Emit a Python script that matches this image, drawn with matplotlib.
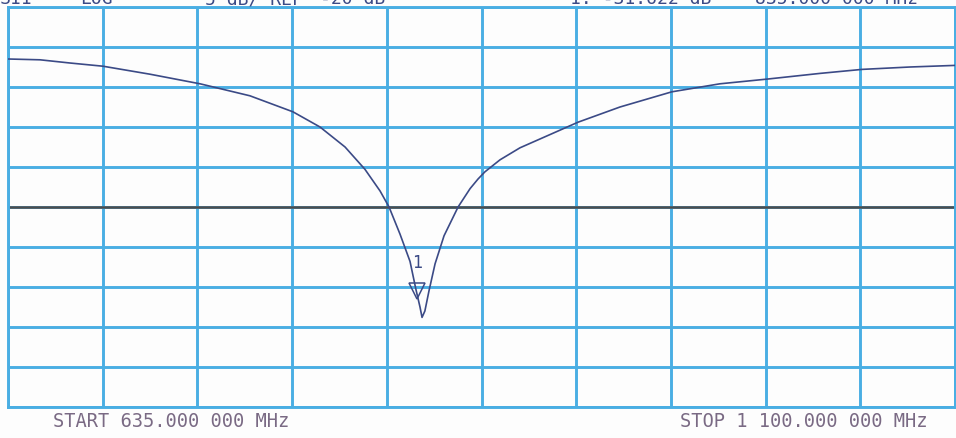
import matplotlib
matplotlib.use('Agg')
import matplotlib.pyplot as plt
import matplotlib.transforms as mtrans
import numpy as np

# Trace (S11, log mag)
freq_mhz = [635.0, 650.7, 665.4, 681.6, 704.7, 729.3, 753.8, 774.9, 788.2,
            800.5, 810.3, 817.7, 822.1, 827.5, 832.4, 835.3, 837.3, 838.3,
            839.7, 841.7, 844.7, 849.1, 856.0, 861.9, 865.8, 869.2, 876.6, 886.4,
            914.9, 935.5, 961.0, 984.6, 1008.2, 1033.7, 1054.3, 1077.9, 1100.0]
s11_db = [-1.5, -1.6, -2.0, -2.4, -3.4, -4.6, -6.1, -8.1, -10.0,
          -12.5, -15.3, -18.0, -20.0, -23.4, -26.8, -30.3, -32.5, -33.8,
          -33.0, -30.5, -27.1, -23.6, -20.0, -17.7, -16.5, -15.6, -14.1, -12.6,
          -9.4, -7.5, -5.6, -4.6, -4.0, -3.3, -2.8, -2.5, -2.3]

start_mhz = 635.0
stop_mhz = 1100.0
ref_db = -20.0
db_per_div = 5.0
marker_mhz = 836.0
marker_db = -31.622

header_left = ["S11", "LOG", "5 dB/ REF", "-20 dB"]
header_right = ["1: -31.622 dB", "835.000 000 MHz"]
start_label = "START 635.000 000 MHz"
stop_label = "STOP 1 100.000 000 MHz"

grid_blue = '#4aaee3'
trace_col = '#3b4a86'
label_col = '#7a6a84'
font = 'DejaVu Sans Mono'

fig = plt.figure(figsize=(9.56, 4.39), dpi=100)
fig.patch.set_facecolor('#fdfdfd')
ax = fig.add_axes([8 / 956, 31 / 439, 947 / 956, 400 / 439])
ax.set_facecolor('#fdfdfd')

ax.set_xlim(start_mhz, stop_mhz)
ax.set_ylim(ref_db - 5 * db_per_div, ref_db + 5 * db_per_div)
ax.set_xticks(np.linspace(start_mhz, stop_mhz, 11))
ax.set_yticks(np.arange(ref_db - 5 * db_per_div, ref_db + 5 * db_per_div + 1, db_per_div))
ax.grid(True, color=grid_blue, linewidth=2.1, zorder=1)
ax.tick_params(length=0, labelbottom=False, labelleft=False)
for sp in ax.spines.values():
    sp.set_color(grid_blue)
    sp.set_linewidth(2.1)

# reference line
ax.axhline(ref_db, color='#4d4d4d', linewidth=1.8, zorder=2)

# trace
ax.plot(freq_mhz, s11_db, color=trace_col, linewidth=1.2, zorder=3)

# marker 1: triangle with its tip at the marker point, number above
up = mtrans.ScaledTranslation(0, 9 / 100, fig.dpi_scale_trans)
ax.plot([marker_mhz], [marker_db], marker='v', markersize=12, markerfacecolor='none',
        markeredgecolor=trace_col, markeredgewidth=1.1, zorder=4,
        transform=ax.transData + up)
ax.annotate("1", (marker_mhz, marker_db), xytext=(0, 21), textcoords='offset points',
            ha='center', va='bottom', color=trace_col, fontsize=12, family=font, zorder=4)

# header (partly cut off at top edge, as on the screen capture)
for x, s in zip([0, 80, 205, 320], header_left):
    fig.text(x / 956, 435 / 439, s, color=trace_col, fontsize=13, family=font,
             ha='left', va='baseline')
for x, s in zip([570, 755], header_right):
    fig.text(x / 956, 435 / 439, s, color=trace_col, fontsize=13, family=font,
             ha='left', va='baseline')

fig.text(53 / 956, 12 / 439, start_label, color=label_col, fontsize=13.5, family=font,
         ha='left', va='baseline')
fig.text(928 / 956, 12 / 439, stop_label, color=label_col, fontsize=13.5, family=font,
         ha='right', va='baseline')

fig.savefig('out.png', dpi=100, facecolor=fig.get_facecolor())
